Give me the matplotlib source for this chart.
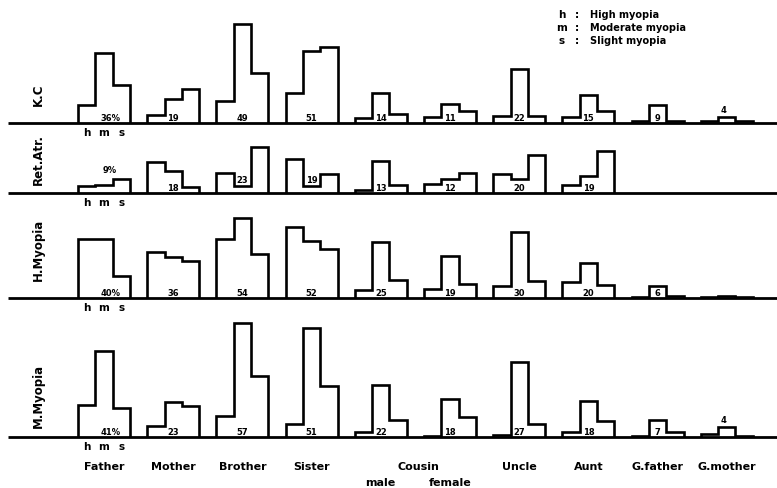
import numpy as np
import matplotlib
matplotlib.use("Agg")
import matplotlib.pyplot as plt

plt.rcParams['font.family'] = ['DejaVu Sans']

# ---------------- data (percent of relatives) ----------------
relatives = ["Father", "Mother", "Brother", "Sister", "Cousin male",
             "Cousin female", "Uncle", "Aunt", "G.father", "G.mother"]
cat_labels = ["Father", "Mother", "Brother", "Sister", "male",
              "female", "Uncle", "Aunt", "G.father", "G.mother"]

kc_h = [5.2, 2.3, 6.3, 8.7, 1.5, 1.7, 2.0, 1.7, 0.6, 0.6]
kc_m = [20.0, 6.9, 28.3, 20.6, 8.5, 5.4, 15.4, 8.0, 5.1, 1.7]
kc_s = [10.8, 9.7, 14.3, 21.7, 2.5, 3.4, 2.0, 3.4, 0.6, 0.6]
kc_lab = ["36%", "19", "49", "51", "14", "11", "22", "15", "9", "4"]

ra_h = [2.0, 8.9, 5.7, 9.7, 0.9, 2.6, 5.4, 2.3, np.nan, np.nan]
ra_m = [2.3, 6.3, 2.0, 2.0, 9.1, 4.0, 4.0, 4.9, np.nan, np.nan]
ra_s = [4.0, 1.7, 13.1, 5.4, 2.3, 5.7, 10.9, 12.0, np.nan, np.nan]
ra_lab = ["9%", "18", "23", "19", "13", "12", "20", "19", "", ""]

hm_h = [16.9, 13.1, 16.9, 20.3, 2.3, 2.6, 3.4, 4.6, 0.3, 0.3]
hm_m = [16.9, 11.7, 22.9, 16.3, 16.0, 12.0, 18.9, 10.0, 3.4, 0.6]
hm_s = [6.3, 10.6, 12.6, 14.0, 5.1, 4.0, 4.9, 3.7, 0.6, 0.3]
hm_lab = ["40%", "36", "54", "52", "25", "19", "30", "20", "6", ""]

mm_h = [9.1, 3.1, 6.0, 3.7, 1.4, 0.3, 0.6, 1.4, 0.3, 0.9]
mm_m = [24.6, 10.0, 32.6, 31.1, 14.9, 10.9, 21.4, 10.3, 4.9, 2.9]
mm_s = [8.3, 8.9, 17.4, 14.6, 4.9, 5.7, 3.7, 4.6, 1.4, 0.3]
mm_lab = ["41%", "23", "57", "51", "22", "18", "27", "18", "7", "4"]

panel_names = ["K.C", "Ret.Atr.", "H.Myopia", "M.Myopia"]
legend_keys = ["h", "m", "s"]
legend_text = ["High myopia", "Moderate myopia", "Slight myopia"]

# ---------------- layout (pixels) ----------------
W, HF = 777, 489
SCALE = 3.5          # px per percent
X0, G = 78.0, 69.2   # first group left edge, group pitch (px)
BW = 0.25            # bar width in group units
xmin, xmax = -X0 / G, (W - X0) / G

fig = plt.figure(figsize=(W / 100, HF / 100), dpi=100)
fig.patch.set_facecolor('white')

panels = [
    (kc_h, kc_m, kc_s, kc_lab, 124, 112, 95),
    (ra_h, ra_m, ra_s, ra_lab, 194, 62, 160),
    (hm_h, hm_m, hm_s, hm_lab, 299, 92, 250),
    (mm_h, mm_m, mm_s, mm_lab, 438, 132, 396),
]

def ux(px):
    return (px - X0) / G

axes = []
for p, (hh, mm, ss, labs, base, hpx, name_y) in enumerate(panels):
    ax = fig.add_axes([0, (HF - base) / HF, 1, hpx / HF])
    ax.set_xlim(xmin, xmax)
    ax.set_ylim(0, hpx / SCALE)
    ax.axis('off')
    axes.append(ax)
    # baseline
    ax.plot([ux(8), xmax], [0, 0], color='black', lw=2.0, clip_on=False,
            solid_capstyle='butt')
    for i in range(len(relatives)):
        vals = [hh[i], mm[i], ss[i]]
        if np.any(np.isnan(vals)):
            continue
        edges = i + BW * np.arange(4)
        ax.stairs(vals, edges, baseline=0, fill=False, color='black',
                  lw=1.9, clip_on=False, joinstyle='miter')
        lab = labs[i]
        if not lab:
            continue
        xc = i + 1.5 * BW
        yb = 0.35
        va = 'bottom'
        if lab.endswith('%'):
            xc += 0.09
        if p == 1 and i == 0:
            yb, va = 6.6, 'center'
        if p == 1 and i in (2, 3):
            yb = mm[i] + 0.5
        if i == 9 and p in (0, 3):
            xc = i + 1.5 * BW - 0.05
            yb, va = mm[i] + 0.8, 'bottom'
        ax.text(xc, yb, lab, ha='center', va=va, fontsize=6,
                fontweight='bold')
    # h m s under Father
    for k, key in enumerate(legend_keys):
        ax.text(BW * (k + 0.5), -9 / SCALE, key, ha='center', va='center',
                fontsize=7.5, fontweight='bold')
    fig.text(38 / W, 1 - name_y / HF, panel_names[p], rotation=90,
             ha='center', va='center', fontsize=8.5, fontweight='bold')

# category labels
axb = axes[-1]
for i, lab in enumerate(cat_labels):
    y = -29 / SCALE if i not in (4, 5) else -45 / SCALE
    axb.text(i + 1.5 * BW, y, lab, ha='center', va='center', fontsize=8,
             fontweight='bold')
axb.text(ux(418), -29 / SCALE, "Cousin", ha='center', va='center',
         fontsize=8, fontweight='bold')

# legend
for k in range(3):
    yy = 1 - (15 + 13 * k) / HF
    fig.text(562 / W, yy, legend_keys[k], ha='center', va='center',
             fontsize=7.5, fontweight='bold')
    fig.text(577 / W, yy, ":", ha='center', va='center', fontsize=7.5,
             fontweight='bold')
    fig.text(590 / W, yy, legend_text[k], ha='left', va='center',
             fontsize=7, fontweight='bold')

fig.savefig("out.png", dpi=100, facecolor='white')
